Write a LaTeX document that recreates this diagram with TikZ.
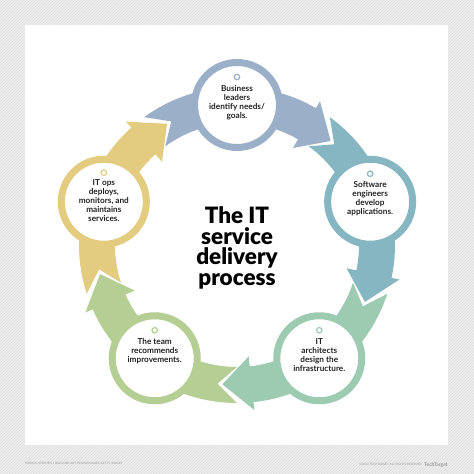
\documentclass[tikz,border=0pt]{standalone}
\usepackage{fontspec}
\setmainfont{Lato}
\newfontfamily\titlefont{Lato Black}
\usetikzlibrary{patterns}
\definecolor{blueC}{HTML}{9BAFC8}
\definecolor{tealC}{HTML}{85B6C1}
\definecolor{mintC}{HTML}{9DCBB1}
\definecolor{greenC}{HTML}{B4CE93}
\definecolor{yellowC}{HTML}{E3CB80}
\definecolor{bgC}{HTML}{EEEEEE}
\definecolor{hatchC}{HTML}{DCDCDC}
\definecolor{textC}{HTML}{222222}
\definecolor{footC}{HTML}{9A9A9A}
\newcommand\myband[2]{%
  \fill[#2] (#1+36:158pt) arc[start angle=#1+36, end angle=#1-30, radius=158pt]
    -- (#1-30:166pt) -- (#1-42:140pt) -- (#1-30:112pt) -- (#1-30:122pt)
    arc[start angle=#1-30, end angle=#1+36, radius=122pt]
    -- (#1+28:140pt) -- cycle;}
\begin{document}
\begin{tikzpicture}[x=1pt,y=1pt,
  ring/.style={circle, draw=#1, line width=7pt, fill=white, minimum size=85pt, inner sep=0pt},
  labeltext/.style={align=center, font=\bfseries\fontsize{8.2}{9}\selectfont, text=textC, anchor=north, inner sep=0pt},
  badge/.style={circle, draw=#1, line width=1.2pt, fill=white, minimum size=5.5pt, inner sep=0pt},
  foot/.style={font=\fontsize{3}{3.5}\selectfont, text=footC, inner sep=0pt}]
\useasboundingbox (0,0) rectangle (474,474);
\fill[bgC] (0,0) rectangle (474,474);
\fill[pattern=north east lines, pattern color=hatchC] (0,0) rectangle (474,474);
\fill[white] (25,29) rectangle (448,449);
\begin{scope}[shift={(237,229)}]
  \myband{90}{blueC}
  \myband{18}{tealC}
  \myband{-54}{mintC}
  \myband{-126}{greenC}
  \myband{162}{yellowC}
  \node[ring=blueC] (c1) at (90:140pt) {};
  \node[ring=tealC] (c2) at (18:140pt) {};
  \node[ring=mintC] (c3) at (-54:140pt) {};
  \node[ring=greenC] (c4) at (-126:140pt) {};
  \node[ring=yellowC] (c5) at (162:140pt) {};
\end{scope}
\node[badge=blueC] (b1) at ([yshift=28pt]c1.center) {};
\node[badge=tealC] (b2) at ([yshift=28pt]c2.center) {};
\node[badge=mintC] (b3) at ([yshift=28pt]c3.center) {};
\node[badge=greenC] (b4) at ([yshift=28pt]c4.center) {};
\node[badge=yellowC] (b5) at ([yshift=29pt]c5.center) {};
\node[labeltext] (t1) at ([yshift=20pt]c1.center) {Business\\leaders\\identify needs/\\goals.};
\node[labeltext] (t2) at ([yshift=20pt]c2.center) {Software\\engineers\\develop\\applications.};
\node[labeltext] (t3) at ([yshift=20pt]c3.center) {IT\\architects\\design the\\infrastructure.};
\node[labeltext] (t4) at ([yshift=20pt]c4.center) {The team\\recommends\\improvements.};
\node[labeltext] (t5) at ([yshift=22pt]c5.center) {IT ops\\deploys,\\monitors, and\\maintains\\services.};
\node[align=center, font=\titlefont\fontsize{22.5}{20.5}\selectfont, text=black, inner sep=0pt] (title) at (237,226) {The IT\\service\\delivery\\process};
\node[foot, anchor=west] (src) at (25,10) {SOURCE: STEPHEN J. BIGELOW; ART: PEOPLEIMAGES/GETTY IMAGES};
\node[foot, anchor=east] (copy) at (422,10) {\textcopyright 2022 TECHTARGET. ALL RIGHTS RESERVED};
\node[font=\bfseries\fontsize{5}{6}\selectfont, text=footC, anchor=east, inner sep=0pt] (tt) at (448,9) {TechTarget};
\end{tikzpicture}
\end{document}
